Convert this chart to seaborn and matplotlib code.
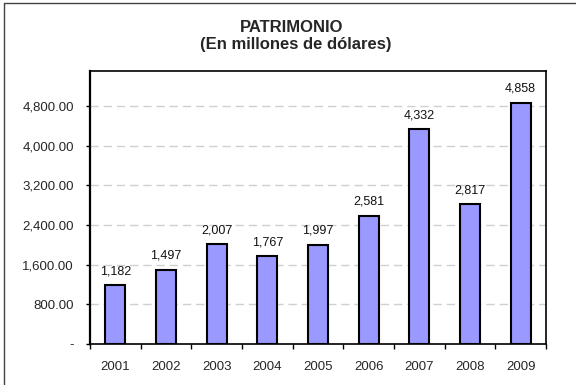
import matplotlib
matplotlib.use("Agg")
import matplotlib.pyplot as plt
from matplotlib.lines import Line2D
from matplotlib.ticker import FixedLocator
import seaborn as sns
import pandas as pd

years = ["2001", "2002", "2003", "2004", "2005", "2006", "2007", "2008", "2009"]
values = [1182, 1497, 2007, 1767, 1997, 2581, 4332, 2817, 4858]
yticks = [0, 800, 1600, 2400, 3200, 4000, 4800]
ytick_labels = ["-", "800.00", "1,600.00", "2,400.00", "3,200.00", "4,000.00", "4,800.00"]
title_lines = ["PATRIMONIO", "(En millones de dólares)"]

sns.set_theme(style="white")
plt.rcParams["font.family"] = ["Liberation Sans", "DejaVu Sans"]

df = pd.DataFrame({"year": years, "value": values})

fig = plt.figure(figsize=(5.76, 3.85), dpi=100)
ax = fig.add_axes([90/576, 1-344/385, (546-90)/576, (344-70.7)/385])

sns.barplot(data=df, x="year", y="value", color="#9999FF", saturation=1,
            edgecolor="black", linewidth=1.5, width=0.4, ax=ax, zorder=3)

ax.set_ylim(0, 5510)
ax.set_xlim(-0.5, len(years) - 0.5)
ax.set_yticks(yticks)
ax.set_yticklabels(ytick_labels)
ax.set_xlabel("")
ax.set_ylabel("")

ax.yaxis.grid(True, color="#D0D0D0", linewidth=1.0, linestyle=(0, (6, 3.5)), zorder=0)
ax.xaxis.grid(False)
ax.set_axisbelow(True)

ax.tick_params(axis="y", which="major", direction="out", length=3, width=1,
               color="black", pad=8.5, labelsize=9.5, left=True)
ax.tick_params(axis="x", which="major", length=0, pad=12, labelsize=9.5)
ax.xaxis.set_minor_locator(FixedLocator([i - 0.5 for i in range(len(years) + 1)]))
ax.tick_params(axis="x", which="minor", direction="out", length=3.5, width=1,
               color="black", bottom=True)

for name, sp in ax.spines.items():
    sp.set_visible(True)
    sp.set_color("black")
    sp.set_linewidth(1.2)
ax.spines["left"].set_linewidth(1.6)

for i, v in enumerate(values):
    ax.annotate(f"{v:,.0f}", xy=(i, v), xytext=(0, 8), textcoords="offset points",
                ha="center", va="baseline", fontsize=9, color="#111111")

fig.text(292/576, 1-27/385, title_lines[0], ha="center", va="center",
         fontsize=12, fontweight="bold")
fig.text(296/576, 1-45/385, title_lines[1], ha="center", va="center",
         fontsize=12, fontweight="bold")

fig.add_artist(Line2D([4/576, 4/576], [0, 1-3/385], transform=fig.transFigure,
                      color="#444444", linewidth=1.0))
fig.add_artist(Line2D([4/576, 1], [1-3/385, 1-3/385], transform=fig.transFigure,
                      color="#444444", linewidth=1.0))

fig.savefig("out.png", dpi=100)
